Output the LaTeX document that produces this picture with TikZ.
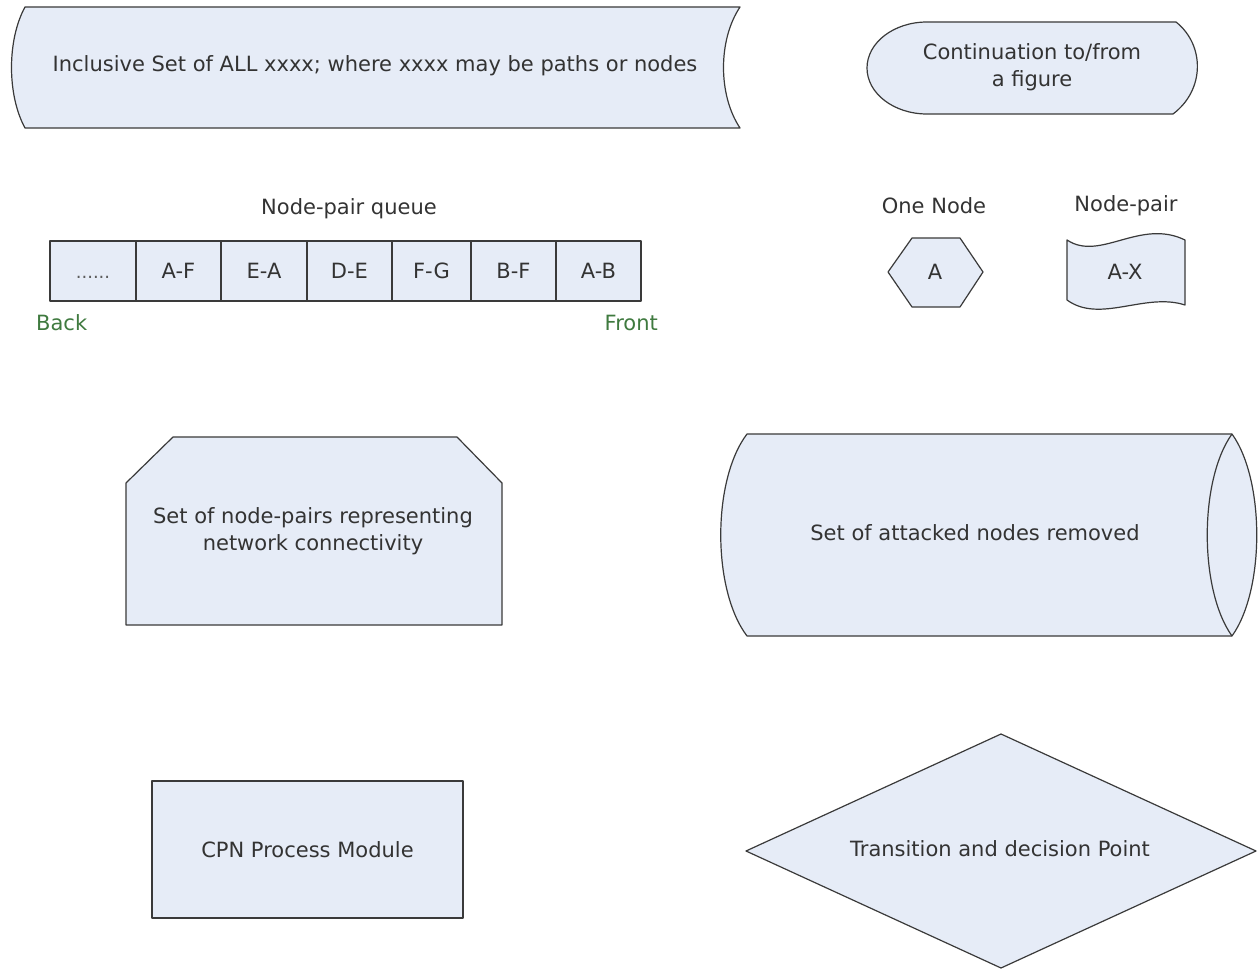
\documentclass[tikz,border=0pt]{standalone}
\usepackage{fontspec}
\setmainfont{DejaVu Sans}
\definecolor{fillc}{HTML}{E6ECF7}
\definecolor{edgec}{HTML}{3A3A3A}
\definecolor{textc}{HTML}{333333}
\definecolor{greenc}{HTML}{3F7A3F}
\begin{document}
\begin{tikzpicture}[x=1pt,y=-1pt,
  shp/.style={draw=edgec, fill=fillc, line width=1.2pt, line join=round},
  txt/.style={text=textc, font=\fontsize{21}{27}\selectfont, align=center, inner sep=0pt},
  qbox/.style={shp, rectangle, minimum height=60pt, inner sep=0pt, text=textc,
               font=\fontsize{21}{27}\selectfont, text height=15pt, text depth=0pt},
  endlbl/.style={text=greenc, font=\fontsize{21}{27}\selectfont, inner sep=0pt}]
\useasboundingbox (0,0) rectangle (1259,971);
\fill[white] (0,0) rectangle (1259,971);

% set of all paths or nodes
\draw[shp] (25,7) -- (740,7) .. controls (718,40) and (718,95) .. (740,128)
  -- (25,128) .. controls (7,95) and (7,40) .. cycle;
\node[txt] (allset) at (375,66) {Inclusive Set of ALL xxxx; where xxxx may be paths or nodes};

% continuation terminator
\draw[shp] (927,22) -- (1176,22) .. controls (1205,45) and (1205,90) .. (1173,114)
  -- (927,114) arc[start angle=90, end angle=270, x radius=60, y radius=46] -- cycle;
\node[txt] (cont) at (1032,67) {Continuation to/from\\a figure};

% node-pair queue
\node[txt] (qlabel) at (349,209) {Node-pair queue};
\node[qbox, minimum width=86pt, text=textc!80, font=\fontsize{18}{22}\selectfont] (q1) at (93,271) {......};
\node[qbox, minimum width=85pt] (q2) at (178.5,271) {A-F};
\node[qbox, minimum width=86pt] (q3) at (264,271) {E-A};
\node[qbox, minimum width=85pt] (q4) at (349.5,271) {D-E};
\node[qbox, minimum width=79pt] (q5) at (431.5,271) {F-G};
\node[qbox, minimum width=85pt] (q6) at (513.5,271) {B-F};
\node[qbox, minimum width=85pt] (q7) at (598.5,271) {A-B};
\node[endlbl, anchor=west] (back) at (36,323) {Back};
\node[endlbl, anchor=east] (front) at (658,323) {Front};

% one node (hexagon)
\node[txt] (onelbl) at (934,206) {One Node};
\draw[shp] (912,238) -- (960,238) -- (983,272) -- (960,307) -- (912,307) -- (888,272) -- cycle;
\node[txt] (hexA) at (935,272) {A};

% node-pair (wavy tape)
\node[txt] (pairlbl) at (1126,206) {Node-pair};
\draw[shp] (1067,240) .. controls (1100,262) and (1140,218) .. (1185,240)
  -- (1185,305) .. controls (1145,292) and (1100,324) .. (1067,300) -- cycle;
\node[txt] (pairAX) at (1125,272) {A-X};

% node-pair set (chamfered box)
\draw[shp] (173,437) -- (457,437) -- (502,483) -- (502,625) -- (126,625) -- (126,483) -- cycle;
\node[txt] (npset) at (313,531) {Set of node-pairs representing\\network connectivity};

% attacked nodes removed (cylinder)
\draw[shp] (747,434) -- (1232,434) .. controls (1265,480) and (1265,590) .. (1232,636)
  -- (747,636) .. controls (712,590) and (712,480) .. cycle;
\draw[shp, fill=none] (1232,434) .. controls (1199,480) and (1199,590) .. (1232,636);
\node[txt] (attacked) at (975,533) {Set of attacked nodes removed};

% CPN process module
\node[shp, rectangle, minimum width=311pt, minimum height=137pt, txt] (cpn) at (307.5,849.5) {CPN Process Module};

% decision diamond
\draw[shp] (1001,734) -- (1256,851) -- (1001,968) -- (746,851) -- cycle;
\node[txt] (decide) at (1000,849) {Transition and decision Point};
\end{tikzpicture}
\end{document}
